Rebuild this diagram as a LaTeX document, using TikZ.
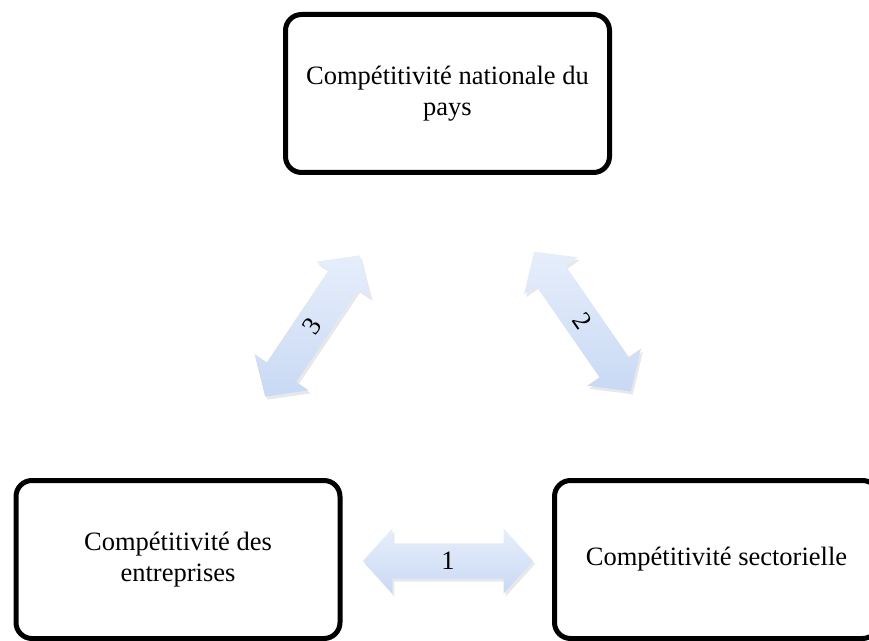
\documentclass[tikz,border=0pt]{standalone}
\usepackage{fontspec}
\setmainfont{Liberation Serif}
\usetikzlibrary{shapes.arrows,shadows}
\definecolor{arrlight}{HTML}{E6EEFB}
\definecolor{arrdark}{HTML}{C9D9F4}
\begin{document}
\begin{tikzpicture}[x=1pt,y=1pt,
  box/.style={draw=black, line width=5pt, rounded corners=16pt,
    minimum width=324pt, minimum height=158pt, align=center,
    font=\fontsize{26.5}{30.5}\selectfont, fill=white},
  darr/.style={double arrow, double arrow head extend=15pt,
    double arrow tip angle=96, inner xsep=0pt, inner ysep=0pt,
    text height=26pt, text depth=9pt, minimum height=170pt,
    top color=arrlight, bottom color=arrdark, draw=none,
    drop shadow={opacity=0.18, shadow xshift=2pt, shadow yshift=-3pt},
    font=\fontsize{26.5}{30}\selectfont}]
\useasboundingbox (0,0) rectangle (869,640);
\node[box] (nat) at (447.5,546.5) {Compétitivité nationale du\\pays};
\node[box] (ent) at (178,80.5) {Compétitivité des\\entreprises};
\node[box] (sec) at (716.5,80.5) {Compétitivité sectorielle};
\node[darr] (a1) at (448,79) {1};
\node[darr, rotate=-55.3] (a2) at (582.5,318.5) {2};
\node[darr, rotate=56.2] (a3) at (312.5,314) {3};
\end{tikzpicture}
\end{document}
